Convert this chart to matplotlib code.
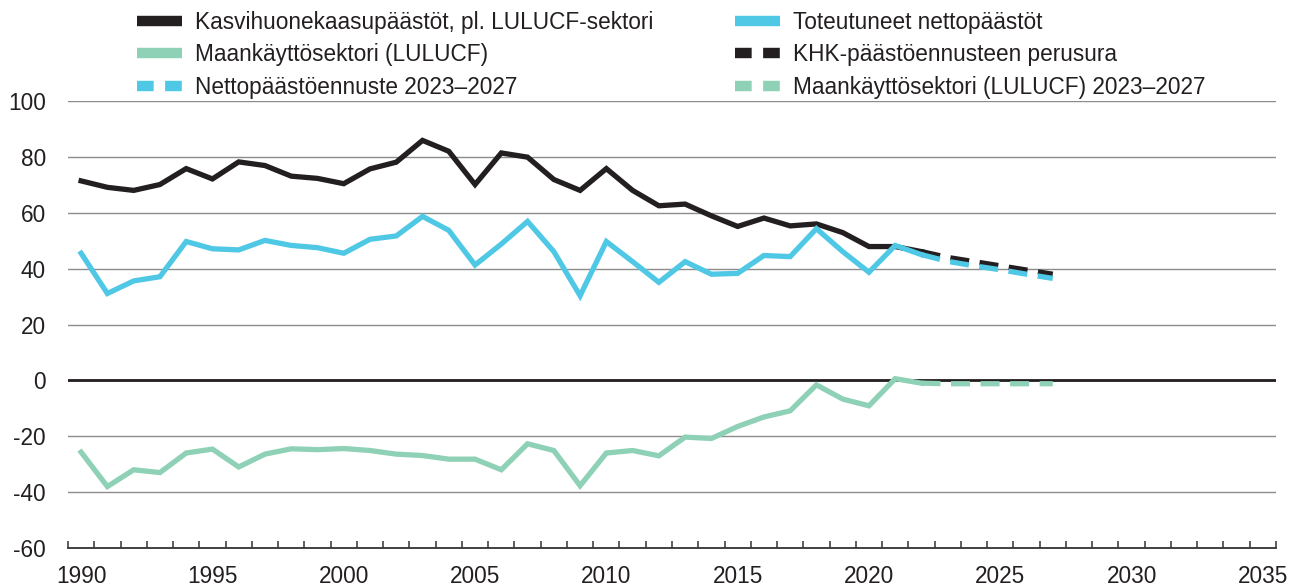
import numpy as np
import matplotlib
matplotlib.use("Agg")
import matplotlib.pyplot as plt
from matplotlib.lines import Line2D
from matplotlib.ticker import FixedLocator

plt.rcParams['font.family'] = ['Liberation Sans', 'DejaVu Sans']
plt.rcParams['axes.unicode_minus'] = False

# toteutuneet vuodet
years = list(range(1990, 2023))
ghg_excl = [71.4, 69.1, 68.0, 70.1, 75.8, 72.1, 78.2, 76.9, 73.1, 72.3,
            70.4, 75.7, 78.1, 85.9, 82.0, 70.1, 81.4, 79.9, 71.9, 68.0,
            75.8, 68.0, 62.5, 63.1, 58.9, 55.1, 58.1, 55.3, 56.0, 52.9,
            47.9, 47.9, 46.1]
net = [45.5, 31.1, 35.6, 37.1, 49.7, 47.1, 46.7, 50.1, 48.3, 47.5,
       45.5, 50.5, 51.7, 58.7, 53.7, 41.3, 48.8, 56.9, 46.1, 30.3,
       49.7, 42.5, 35.1, 42.5, 38.0, 38.3, 44.7, 44.3, 54.3, 46.1,
       38.7, 48.3, 45.0]
lulucf = [-25.7, -38.0, -32.0, -33.0, -26.0, -24.6, -31.0, -26.4, -24.5, -24.8,
          -24.4, -25.1, -26.4, -26.9, -28.2, -28.2, -32.0, -22.7, -25.1, -37.7,
          -26.0, -25.1, -27.0, -20.3, -20.8, -16.5, -13.1, -10.9, -1.6, -6.7,
          -9.1, 0.6, -1.0]

# ennusteet
years_proj = list(range(2022, 2028))
ghg_proj = [46.1, 44.0, 42.5, 41.0, 39.5, 38.0]
net_proj = [45.0, 42.6, 41.0, 39.6, 38.0, 36.5]
lulucf_proj = [-1.0, -1.2, -1.2, -1.2, -1.2, -1.2]

labels_left = ["Kasvihuonekaasupäästöt, pl. LULUCF-sektori",
               "Maankäyttösektori (LULUCF)",
               "Nettopäästöennuste 2023–2027"]
labels_right = ["Toteutuneet nettopäästöt",
                "KHK-päästöennusteen perusura",
                "Maankäyttösektori (LULUCF) 2023–2027"]

BLACK = '#231f20'
BLUE = '#4fc8e5'
GREEN = '#8ed1b6'
GRID = '#8c8c8c'

fig = plt.figure(figsize=(13.01, 5.87), dpi=100)
ax = fig.add_axes([68 / 1301, 1 - 548 / 587, (1276 - 68) / 1301, (548 - 101) / 587])

lw = 3.8
dash = (3.6, 2.0)

ax.axhline(0, color=BLACK, lw=2.0, zorder=2)

ax.plot(years, ghg_excl, color=BLACK, lw=lw, zorder=3, solid_joinstyle='miter')
ax.plot(years_proj, ghg_proj, color=BLACK, lw=lw, zorder=3, dashes=dash)
ax.plot(years, lulucf, color=GREEN, lw=lw, zorder=3, solid_joinstyle='miter')
ax.plot(years_proj, lulucf_proj, color=GREEN, lw=lw, zorder=3, dashes=dash)
ax.plot(years, net, color=BLUE, lw=lw, zorder=4, solid_joinstyle='miter')
ax.plot(years_proj, net_proj, color=BLUE, lw=lw, zorder=4, dashes=dash)

ax.set_xlim(1989.5, 2035.5)
ax.set_ylim(-60, 100)
ax.set_yticks(np.arange(-60, 101, 20))
ax.yaxis.grid(True, color=GRID, lw=1.0, zorder=1)
ax.set_axisbelow(True)

ax.set_xticks(np.arange(1990, 2036, 5))
ax.xaxis.set_minor_locator(FixedLocator(np.arange(1989.5, 2036, 1)))
ax.tick_params(axis='x', which='major', length=0, pad=12, labelsize=16.3, colors=BLACK)
ax.tick_params(axis='x', which='minor', length=5, width=1.1, direction='in', color='#333333')
ax.tick_params(axis='y', length=0, pad=16, labelsize=16.3, colors=BLACK)

for s in ['top', 'right', 'left']:
    ax.spines[s].set_visible(False)
ax.spines['bottom'].set_color('#333333')
ax.spines['bottom'].set_linewidth(1.3)

# selite kahdessa osassa
def solid(c):
    return Line2D([], [], color=c, lw=7.5, solid_capstyle='butt')

def dashed(c):
    return Line2D([], [], color=c, lw=7.5, dashes=(1.6, 1.1), dash_capstyle='butt')

left_handles = [solid(BLACK), solid(GREEN), dashed(BLUE)]
right_handles = [solid(BLUE), dashed(BLACK), dashed(GREEN)]

for handles, labels, x0 in [(left_handles, labels_left, 137 / 1301),
                            (right_handles, labels_right, 735 / 1301)]:
    fig.legend(handles, labels, loc='upper left', bbox_to_anchor=(x0, 0.982),
               frameon=False, fontsize=16.3, handlelength=2.0, handletextpad=0.55,
               labelspacing=0.42, borderpad=0, borderaxespad=0, labelcolor=BLACK)

fig.savefig("out.png", dpi=100)
